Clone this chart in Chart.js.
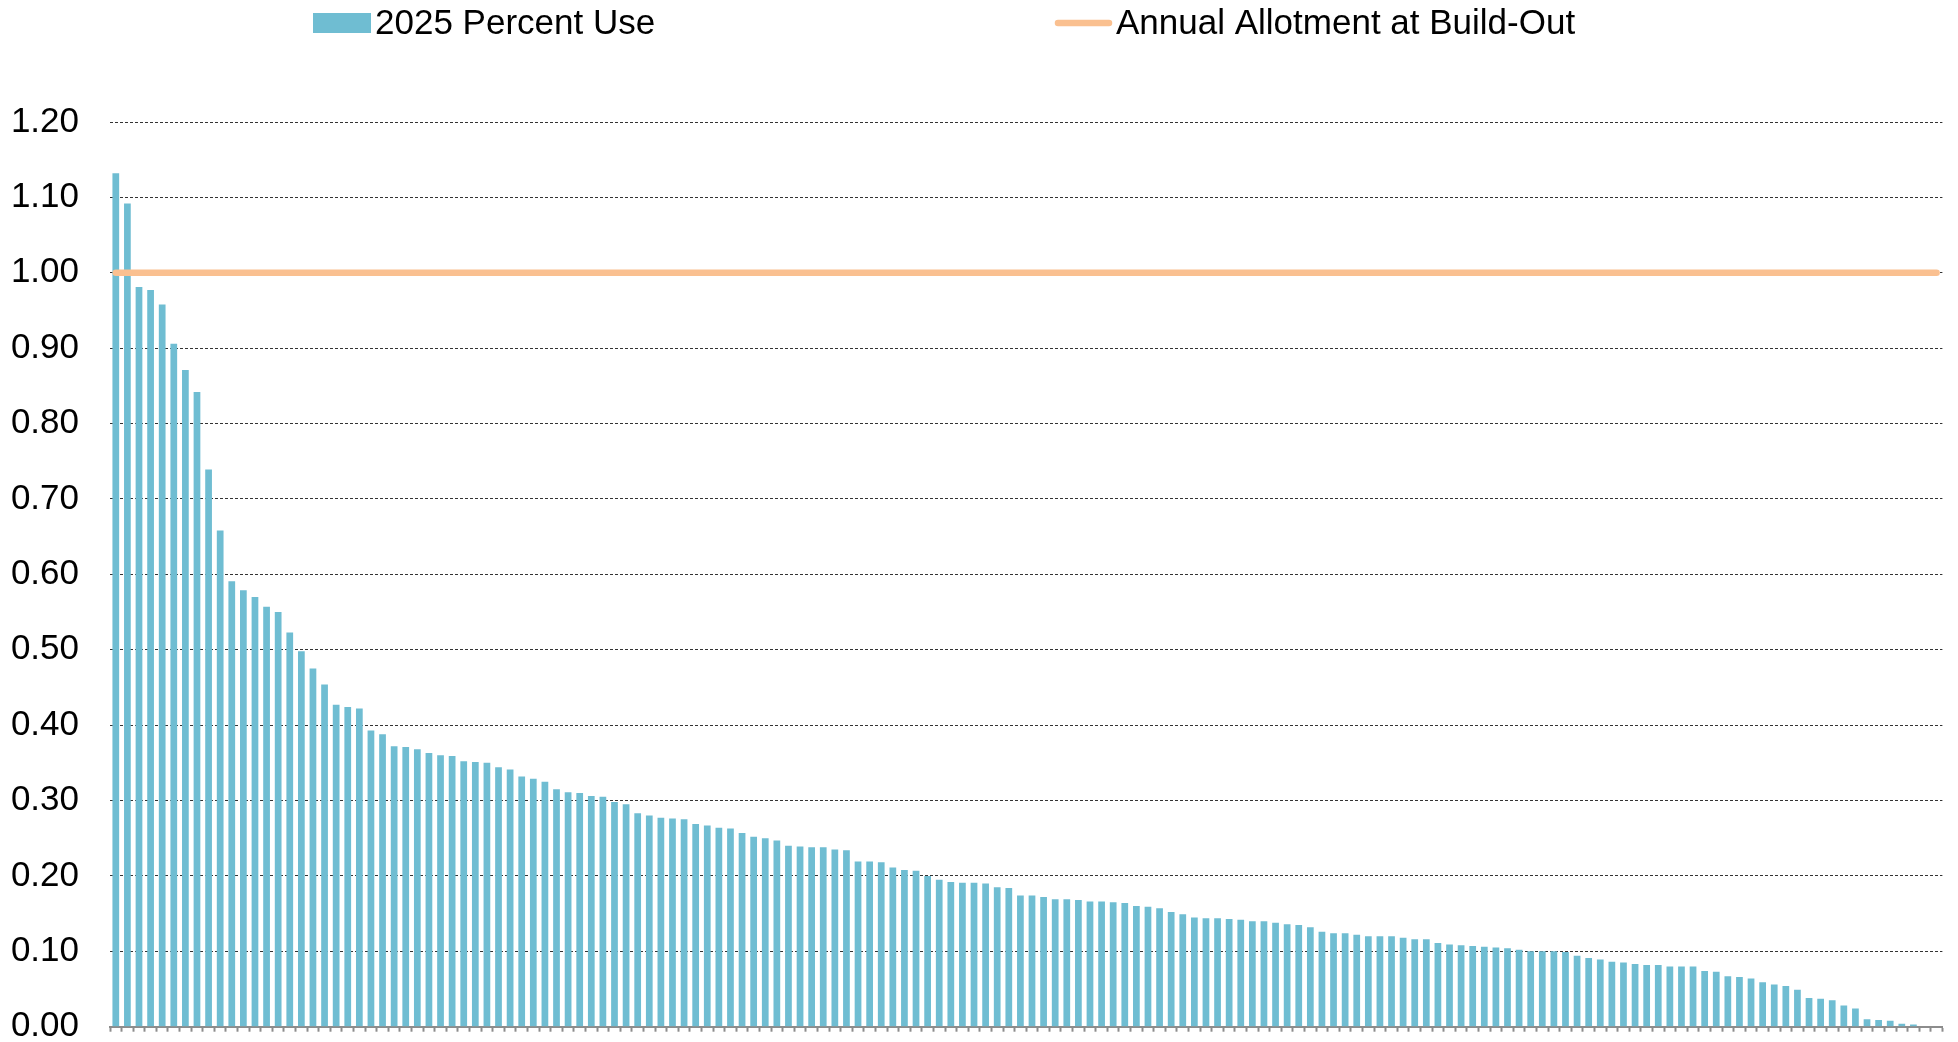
<!DOCTYPE html>
<html>
<head>
<meta charset="utf-8">
<title>2025 Percent Use</title>
<script src="https://cdn.jsdelivr.net/npm/chart.js@4.4.1/dist/chart.umd.min.js"></script>
<style>
    html, body { margin: 0; padding: 0; background: #fff; }
    #wrap { width: 1958px; height: 1042px; }
</style>
</head>
<body>
<div id="wrap"><canvas id="useChart" width="1958" height="1042"></canvas></div>
<script>
// values, sorted high to low (one per system)
const percentUse = [
    1.132, 1.092, 0.981, 0.977, 0.958, 0.906, 0.871, 0.842, 0.739, 0.658,
    0.591, 0.579, 0.570, 0.557, 0.550, 0.523, 0.498, 0.475, 0.454, 0.427,
    0.424, 0.422, 0.393, 0.388, 0.372, 0.371, 0.368, 0.363, 0.360, 0.359,
    0.352, 0.351, 0.350, 0.344, 0.341, 0.332, 0.329, 0.325, 0.315, 0.311,
    0.310, 0.306, 0.305, 0.298, 0.295, 0.283, 0.280, 0.277, 0.276, 0.275,
    0.269, 0.267, 0.264, 0.263, 0.257, 0.252, 0.250, 0.247, 0.240, 0.239,
    0.238, 0.238, 0.235, 0.234, 0.219, 0.219, 0.218, 0.211, 0.208, 0.207,
    0.200, 0.195, 0.192, 0.191, 0.191, 0.190, 0.185, 0.184, 0.174, 0.174,
    0.172, 0.169, 0.169, 0.168, 0.166, 0.166, 0.165, 0.164, 0.160, 0.159,
    0.157, 0.152, 0.149, 0.145, 0.144, 0.144, 0.143, 0.142, 0.140, 0.140,
    0.138, 0.136, 0.135, 0.132, 0.126, 0.124, 0.124, 0.122, 0.120, 0.120,
    0.120, 0.118, 0.116, 0.116, 0.111, 0.109, 0.108, 0.107, 0.106, 0.105,
    0.104, 0.102, 0.100, 0.100, 0.100, 0.099, 0.094, 0.091, 0.089, 0.086,
    0.085, 0.083, 0.082, 0.082, 0.080, 0.080, 0.080, 0.074, 0.073, 0.067,
    0.066, 0.064, 0.059, 0.056, 0.054, 0.049, 0.038, 0.037, 0.035, 0.028,
    0.024, 0.010, 0.009, 0.008, 0.004, 0.003, 0.000, 0.000
];
// the categories carry no visible names
const categories = percentUse.map((v, i) => String(i + 1));
const allotmentLevel = 1.0;
const yTicks = [0, 0.1, 0.2, 0.3, 0.4, 0.5, 0.6, 0.7, 0.8, 0.9, 1.0, 1.1, 1.2];
const seriesNames = ['2025 Percent Use', 'Annual Allotment at Build-Out'];

const barColor = '#6FBDD2';
const lineColor = '#FAC090';
const fontFamily = '"Liberation Sans", Arial, Helvetica, sans-serif';

// legend drawn by hand: box/line then text with a small gap, like the original
const topLegend = {
    id: 'topLegend',
    afterDraw(chart) {
        const ctx = chart.ctx;
        ctx.save();
        ctx.font = '35px ' + fontFamily;
        ctx.textBaseline = 'alphabetic';

        ctx.fillStyle = barColor;
        ctx.fillRect(313, 13, 58, 20);
        ctx.fillStyle = '#000';
        ctx.fillText(seriesNames[0], 375, 34);

        ctx.strokeStyle = lineColor;
        ctx.lineWidth = 6.5;
        ctx.lineCap = 'round';
        ctx.beginPath();
        ctx.moveTo(1058, 23);
        ctx.lineTo(1109, 23);
        ctx.stroke();
        ctx.fillStyle = '#000';
        ctx.fillText(seriesNames[1], 1116, 34);
        ctx.restore();
    }
};

document.addEventListener('DOMContentLoaded', function () {
    const ctx = document.getElementById('useChart').getContext('2d');

    new Chart(ctx, {
        type: 'bar',
        data: {
            labels: categories,
            datasets: [{
                type: 'line',
                label: seriesNames[1],
                data: categories.map(() => allotmentLevel),
                borderColor: lineColor,
                borderWidth: 6.5,
                borderCapStyle: 'round',
                pointRadius: 0,
                fill: false,
                order: 0
            }, {
                label: seriesNames[0],
                data: percentUse,
                backgroundColor: barColor,
                borderWidth: 0,
                categoryPercentage: 1.0,
                barPercentage: 0.58,
                order: 1
            }]
        },
        options: {
            responsive: false,
            animation: false,
            layout: { padding: { top: 122, right: 15.6, bottom: 10.3, left: 0 } },
            plugins: {
                legend: { display: false },
                tooltip: { enabled: false }
            },
            scales: {
                x: {
                    ticks: { display: false },
                    grid: {
                        drawOnChartArea: false,
                        drawTicks: true,
                        tickLength: 5,
                        tickWidth: 2,
                        tickColor: '#8C8C8C'
                    },
                    border: { display: true, color: '#8C8C8C', width: 2 }
                },
                y: {
                    min: 0,
                    max: 1.2,
                    afterFit: function (scale) {
                        scale.width = 110;
                        // the label padding should not push the plot area in
                        scale.paddingTop = 0;
                        scale.paddingBottom = 0;
                    },
                    afterBuildTicks: function (scale) {
                        scale.ticks = yTicks.map(v => ({ value: v }));
                    },
                    ticks: {
                        padding: 31,
                        color: '#000',
                        font: { family: fontFamily, size: 35 },
                        callback: v => Number(v).toFixed(2)
                    },
                    grid: {
                        color: '#333',
                        lineWidth: 1,
                        drawTicks: false
                    },
                    border: { display: false, dash: [3, 2] }
                }
            }
        },
        plugins: [topLegend]
    });
});
</script>
</body>
</html>
